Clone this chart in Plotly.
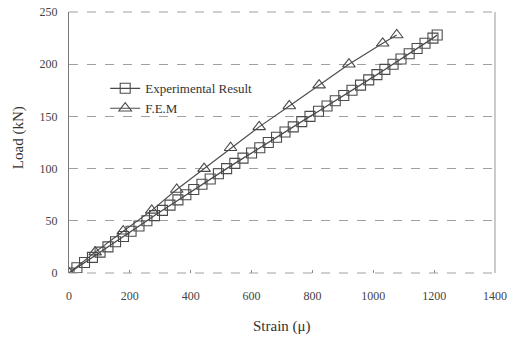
import plotly.graph_objects as go

exp_load = [0, 5, 10, 15, 20, 25, 30, 35, 40, 45, 50, 55, 60, 65, 70, 75, 80, 85, 90, 95,
            100, 105, 110, 115, 120, 125, 130, 135, 140, 145, 150, 155, 160, 165, 170, 175,
            180, 185, 190, 195, 200, 205, 210, 215, 220, 225, 228]
exp_strain = [0, 26, 51, 77, 102, 128, 153, 179, 204, 230, 256, 281, 307, 332, 358, 384,
              410, 437, 464, 491, 518, 545, 572, 600, 627, 655, 682, 710, 737, 765, 792,
              820, 848, 875, 903, 930, 958, 985, 1012, 1038, 1065, 1091, 1118, 1144, 1170,
              1196, 1210]

fem_load = [0, 20, 40, 60, 80, 100, 120, 140, 160, 180, 200, 220, 228]
fem_strain = [0, 86, 178, 272, 354, 444, 531, 625, 724, 822, 920, 1031, 1077]

x_ticks = [0, 200, 400, 600, 800, 1000, 1200, 1400]
y_ticks = [0, 50, 100, 150, 200, 250]

line_col = "#4a4a4a"
font_fam = "Liberation Serif, Times New Roman, serif"
grid_col = "#a0a0a0"

fig = go.Figure()
fig.add_trace(go.Scatter(
    x=exp_strain, y=exp_load, mode="lines+markers", name="Experimental Result",
    line=dict(color=line_col, width=1.3),
    marker=dict(symbol="square-open", size=10, color=line_col, line=dict(width=1.1)),
))
fig.add_trace(go.Scatter(
    x=fem_strain, y=fem_load, mode="lines+markers", name="F.E.M",
    line=dict(color=line_col, width=1.1),
    marker=dict(symbol="triangle-up-open", size=11, color=line_col, line=dict(width=1.1)),
))

fig.update_layout(
    width=517, height=338,
    margin=dict(l=69, r=22, t=12, b=65, autoexpand=False),
    paper_bgcolor="white", plot_bgcolor="white",
    font=dict(family=font_fam, size=12, color="#444444"),
    showlegend=True,
    legend=dict(x=0.085, y=0.765, xanchor="left", yanchor="top",
                bgcolor="rgba(0,0,0,0)", font=dict(size=13, color="#333333"),
                itemwidth=30, tracegroupgap=0),
    xaxis=dict(range=[0, 1400], tickvals=x_ticks, showgrid=False, zeroline=False,
               showline=False, ticks="inside", ticklen=3, tickcolor="#888888",
               automargin=False, ticklabelstandoff=14,
               tickfont=dict(size=12, color="#444444")),
    yaxis=dict(range=[0, 250], tickvals=y_ticks, showgrid=True, gridcolor=grid_col,
               griddash="dash", gridwidth=1, zeroline=False,
               showline=True, linecolor="#777777", linewidth=1, mirror=False,
               ticks="", automargin=False, ticklabelstandoff=8,
               tickfont=dict(size=12, color="#444444")),
    shapes=[
        dict(type="line", xref="paper", yref="paper", x0=1, x1=1, y0=0, y1=1,
             line=dict(color="#999999", width=1)),
        dict(type="line", xref="paper", yref="paper", x0=0, x1=1, y0=1, y1=1,
             line=dict(color=grid_col, width=1, dash="dash")),
        dict(type="line", xref="paper", yref="paper", x0=0, x1=1, y0=0, y1=0,
             line=dict(color=grid_col, width=1, dash="dash")),
    ],
    annotations=[
        dict(text="Strain (μ)", xref="paper", yref="paper", x=0.5, y=-0.205,
             xanchor="center", yanchor="middle", showarrow=False,
             font=dict(size=15, color="#333333")),
        dict(text="Load (kN)", xref="paper", yref="paper", x=-0.12, y=0.52,
             xanchor="center", yanchor="middle", textangle=-90, showarrow=False,
             font=dict(size=15, color="#333333")),
    ],
)

fig.write_html("out.html")
